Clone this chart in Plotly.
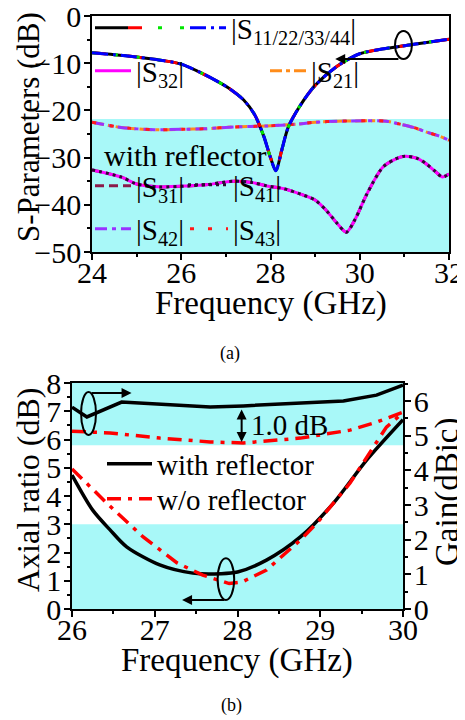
import plotly.graph_objects as go

# ---------------- data: (a) S-parameters ----------------
freq_s11 = [24.0, 24.5, 25.0, 25.5, 26.0, 26.5, 26.8, 27.1, 27.4, 27.65, 27.85, 28.0, 28.12,
            28.25, 28.4, 28.65, 29.0, 29.5, 30.0, 30.5, 31.0, 31.5, 32.0]
s11 = [-7.8, -8.2, -8.7, -9.3, -10.2, -12.3, -13.8, -15.5, -17.8, -21.0, -25.5, -30.0, -32.8,
       -28.5, -23.5, -19.2, -14.7, -10.6, -8.0, -7.0, -6.3, -5.6, -4.9]

freq_up = [24.0, 24.65, 25.4, 26.0, 26.5, 27.2, 27.9, 28.6, 29.0, 29.5, 30.16, 30.6, 30.9,
           31.2, 31.5, 31.8, 32.0]
s_up = [-22.5, -23.6, -24.1, -24.0, -23.9, -23.5, -23.3, -22.9, -22.5, -22.3, -22.2, -22.3,
        -22.9, -23.6, -24.6, -25.5, -26.3]

freq_lo = [24.0, 24.65, 25.0, 25.5, 26.15, 26.6, 27.17, 27.6, 27.92, 28.3, 28.66, 29.0, 29.26,
           29.5, 29.7, 29.9, 30.16, 30.52, 30.8, 31.01, 31.3, 31.5, 31.7, 31.85, 32.0]
s_lo = [-32.6, -34.1, -35.6, -36.2, -36.0, -35.7, -35.0, -35.3, -36.0, -36.6, -37.7, -39.0,
        -41.3, -44.0, -45.8, -43.0, -37.7, -32.0, -30.3, -29.7, -30.2, -31.4, -33.0, -34.1, -33.5]

# ---------------- data: (b) AR and gain ----------------
freq_ar_w = [26.0, 26.25, 26.46, 26.66, 27.06, 27.46, 27.8, 28.0, 28.35, 28.76, 29.16, 29.56, 30.0]
ar_w = [4.74, 3.5, 2.8, 2.2, 1.56, 1.27, 1.25, 1.31, 1.73, 2.55, 3.75, 5.27, 6.7]

freq_ar_wo = [26.0, 26.26, 26.42, 26.86, 27.27, 27.58, 27.9, 28.05, 28.35, 28.76, 28.96, 29.36,
              29.64, 29.8, 30.0]
ar_wo = [4.96, 4.2, 3.75, 2.55, 1.63, 1.2, 0.9, 0.95, 1.38, 2.44, 3.04, 4.46, 5.73, 6.44, 6.95]

freq_g_w = [26.0, 26.18, 26.6, 27.06, 27.67, 28.07, 28.76, 29.28, 29.68, 30.0]
gain_w = [5.82, 5.54, 5.97, 5.91, 5.83, 5.86, 5.94, 6.0, 6.17, 6.46]

freq_g_wo = [26.0, 26.46, 27.06, 27.67, 28.07, 28.76, 29.36, 29.68, 30.0]
gain_wo = [5.13, 5.08, 4.93, 4.82, 4.79, 4.93, 5.16, 5.39, 5.68]

FONT = "Liberation Serif"
OFF = 8  # page body margin
W, H = 465 - OFF, 720 - OFF
CYAN = "#a8f8f8"


def px_x(p):
    return (p - OFF) / W


def px_y(p):
    return 1 - (p - OFF) / H


fig = go.Figure()
legends = {}
_leg_count = [0]


def new_legend(x_px, y_px, itemwidth):
    _leg_count[0] += 1
    name = "legend" if _leg_count[0] == 1 else "legend%d" % _leg_count[0]
    legends[name] = dict(
        x=px_x(x_px), y=px_y(y_px), xanchor="left", yanchor="middle",
        bgcolor="rgba(0,0,0,0)", borderwidth=0, itemwidth=max(30, itemwidth),
        font=dict(family=FONT, size=29, color="black"), tracegroupgap=0,
        itemclick=False, itemdoubleclick=False,
    )
    return name


def add(x, y, name, color, dash, width, xa, ya, leg=None, shape="spline"):
    fig.add_trace(go.Scatter(
        x=x, y=y, mode="lines", name=name,
        line=dict(color=color, dash=dash, width=width, shape=shape,
                  smoothing=0.8 if shape == "spline" else None),
        xaxis=xa, yaxis=ya, showlegend=leg is not None,
        legend=leg if leg is not None else "legend",
    ))


# ---- (a) traces ----
add(freq_lo, s_lo, "|S<sub>31</sub>|", "#8b1a4b", "9px,5px", 3, "x", "y", new_legend(90, 186, 36))
add(freq_lo, s_lo, "|S<sub>32</sub>|", "#ff00ff", "solid", 3, "x", "y", new_legend(90, 71, 36))
add(freq_lo, s_lo, "|S<sub>41</sub>|", "#2a0a33", "3px,4px", 3, "x", "y", new_legend(183, 185, 40))
add(freq_up, s_up, "|S<sub>21</sub>|", "#ff8c1a", "12px,4px,4px,4px", 3, "x", "y", new_legend(265, 71, 36))
add(freq_up, s_up, "|S<sub>42</sub>|", "#9933ff", "12px,5px,4px,5px", 3, "x", "y", new_legend(90, 229, 36))
add(freq_up, s_up, "|S<sub>43</sub>|", "#ff1a1a", "4px,14px", 3, "x", "y", new_legend(185, 229, 38))
add(freq_s11, s11, " ", "#000000", "solid", 3, "x", "y", new_legend(90, 28, 33))
add(freq_s11, s11, " ", "#ff0000", "14px,22px", 3, "x", "y", new_legend(123, 28, 30))
add(freq_s11, s11, " ", "#00e600", "4px,18px", 3, "x", "y", new_legend(153, 28, 32))
add(freq_s11, s11, "|S<sub>11/22/33/44</sub>|", "#0000ff", "16px,5px,3px,5px", 3, "x", "y",
    new_legend(185, 28, 36))

# ---- (b) traces ----
add(freq_g_w, gain_w, "with reflector", "black", "solid", 3.5, "x2", "y3", shape="linear")
add(freq_g_wo, gain_wo, "w/o reflector", "#ff0000", "14px,7px,4px,7px", 3.5, "x2", "y3", shape="linear")
add(freq_ar_w, ar_w, "with reflector", "black", "solid", 3.5, "x2", "y2", new_legend(102, 464, 45))
add(freq_ar_wo, ar_wo, "w/o reflector", "#ff0000", "14px,7px,4px,7px", 3.5, "x2", "y2",
    new_legend(102, 499, 45), shape="linear")

axis_common = dict(
    showline=True, linecolor="black", linewidth=1.5, ticks="outside", ticklen=6,
    tickwidth=1.5, tickcolor="black", showgrid=False, zeroline=False, automargin=False,
    ticklabeloverflow="allow",
    tickfont=dict(family=FONT, size=30, color="black"),
)
minor = dict(ticks="outside", ticklen=3, tickwidth=1.5, tickcolor="black", showgrid=False)

fig.update_layout(
    width=W, height=H, margin=dict(l=0, r=0, t=0, b=0, autoexpand=False),
    paper_bgcolor="white", plot_bgcolor="rgba(0,0,0,0)", template="none",
    font=dict(family=FONT, color="black"),
    xaxis=dict(axis_common, domain=[px_x(92), px_x(449)], range=[24, 32], dtick=2, tick0=24,
               mirror=True, anchor="y", minor=dict(minor, dtick=1), ticklabelstandoff=-13),
    yaxis=dict(axis_common, domain=[px_y(252), px_y(16)], range=[-50, 0], dtick=10,
               mirror=True, anchor="x", minor=dict(minor, dtick=5), ticklabelstandoff=-3),
    xaxis2=dict(axis_common, domain=[px_x(72), px_x(403)], range=[26, 30], dtick=1,
                mirror=True, anchor="y2", minor=dict(minor, dtick=0.5), ticklabelstandoff=-13),
    yaxis2=dict(axis_common, domain=[px_y(609), px_y(383)], range=[0, 8], dtick=1,
                anchor="x2", minor=dict(minor, dtick=0.5), ticklabelstandoff=-3),
    yaxis3=dict(axis_common, domain=[px_y(609), px_y(383)], range=[0, 6.52], dtick=1,
                anchor="x2", overlaying="y2", side="right", minor=dict(minor, dtick=0.5),
                ticklabelstandoff=-3),
    **legends,
)

fig.add_shape(type="rect", xref="x", yref="y", x0=24, x1=32, y0=-50, y1=-21.8,
              fillcolor=CYAN, line_width=0, layer="below")
fig.add_shape(type="rect", xref="x2", yref="y2", x0=26, x1=30, y0=5.8, y1=8,
              fillcolor=CYAN, line_width=0, layer="below")
fig.add_shape(type="rect", xref="x2", yref="y2", x0=26, x1=30, y0=0, y1=3,
              fillcolor=CYAN, line_width=0, layer="below")

fig.add_shape(type="circle", xref="x", yref="y", x0=30.79, x1=31.17, y0=-9.1, y1=-3.2,
              line=dict(color="black", width=2))
fig.add_shape(type="circle", xref="x2", yref="y3", x0=26.11, x1=26.29, y0=5.02, y1=6.26,
              line=dict(color="black", width=2))
fig.add_shape(type="circle", xref="x2", yref="y2", x0=27.76, x1=27.96, y0=0.32, y1=1.8,
              line=dict(color="black", width=2))

ann = []
ann.append(dict(x=29.45, y=-9.1, ax=30.9, ay=-9.1, xref="x", yref="y", axref="x", ayref="y",
                text="", showarrow=True, arrowhead=2, arrowsize=1, arrowwidth=2, arrowcolor="black"))
ann.append(dict(x=26.72, y=6.23, ax=26.22, ay=6.23, xref="x2", yref="y3", axref="x2", ayref="y3",
                text="", showarrow=True, arrowhead=2, arrowsize=1, arrowwidth=2, arrowcolor="black"))
ann.append(dict(x=27.33, y=0.32, ax=27.86, ay=0.32, xref="x2", yref="y2", axref="x2", ayref="y2",
                text="", showarrow=True, arrowhead=2, arrowsize=1, arrowwidth=2, arrowcolor="black"))
ann.append(dict(x=28.05, y=4.82, ax=28.05, ay=5.8, xref="x2", yref="y3", axref="x2", ayref="y3",
                text="", showarrow=True, arrowhead=2, startarrowhead=2, arrowside="end+start",
                arrowsize=1, arrowwidth=2, arrowcolor="black"))
ann.append(dict(x=28.63, y=5.31, xref="x2", yref="y3", text="1.0 dB", showarrow=False,
                font=dict(family=FONT, size=29, color="black")))


def ptext(text, x, y, size, angle=0, anchor="center"):
    ann.append(dict(x=px_x(x), y=px_y(y), xref="paper", yref="paper", xanchor=anchor,
                    yanchor="middle", text=text, showarrow=False, textangle=angle,
                    font=dict(family=FONT, size=size, color="black")))


ptext("with reflector", 102, 155, 30, anchor="left")
# axis titles
ptext("S-Parameters (dB)", 28, 127, 31, angle=-90)
ptext("Frequency (GHz)", 271, 303, 33)
ptext("Axial ratio (dB)", 28, 490, 32, angle=-90)
ptext("Gain(dBic)", 447, 492, 33, angle=-90)
ptext("Frequency (GHz)", 237, 660, 33)
# captions
ptext("(a)", 230, 353, 18)
ptext("(b)", 231, 705, 18)
fig.update_layout(annotations=ann)

fig.write_html("out.html")
